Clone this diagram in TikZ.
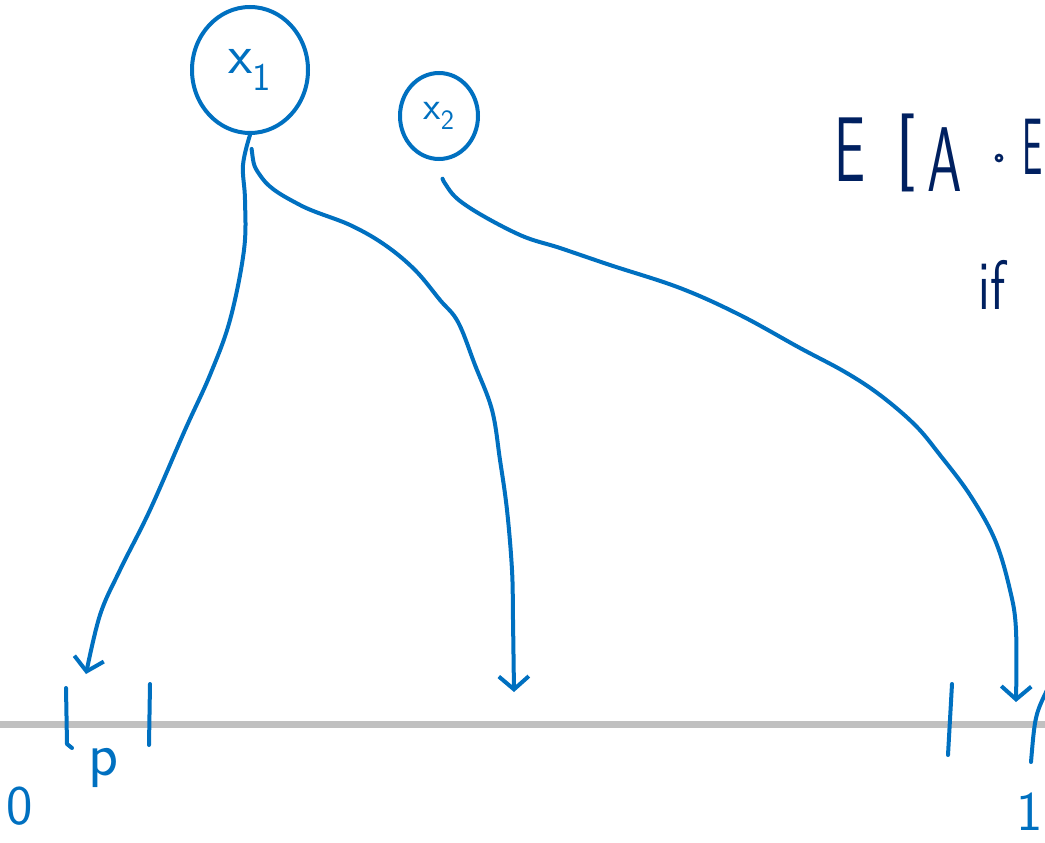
\documentclass[tikz,border=0pt]{standalone}
\usetikzlibrary{shapes.geometric,arrows.meta}
\definecolor{pen}{RGB}{0,112,192}
\definecolor{ink}{RGB}{0,32,96}
\definecolor{axisgray}{RGB}{192,192,192}
\begin{document}
\begin{tikzpicture}[x=1pt,y=-1pt,
  penline/.style={draw=pen, line width=4pt, line cap=round, line join=round},
  conn/.style={penline, -{Straight Barb[length=13pt,width=30pt]}},
  bubble/.style={ellipse, draw=pen, line width=4pt, inner sep=0pt, text=pen, font=\sffamily\fontsize{56}{56}\selectfont},
  hand/.style={text=pen, inner sep=0pt, font=\sffamily\fontsize{56}{56}\selectfont},
  navy/.style={text=ink, inner sep=0pt, font=\sffamily\fontsize{92}{92}\selectfont}]
\useasboundingbox (0,0) rectangle (1045,843);
\clip (0,0) rectangle (1045,843);
% axis
\draw[axisgray, line width=7pt] (0,724) -- (1045,724);
% variable nodes
\node[bubble, minimum width=116pt, minimum height=126pt] (x1) at (250,70) {x\textsubscript{1}};
\node[bubble, minimum width=78pt, minimum height=86pt, font=\sffamily\fontsize{40}{40}\selectfont] (x2) at (439,116) {x\textsubscript{2}};
% connector ends
\coordinate (e1) at (86,674);
\coordinate (e2) at (514,692);
\coordinate (e3) at (1016,702);
% connectors
\draw[conn] plot[smooth, tension=0.6] coordinates {(x1.south) (243,165) (245,200) (244,250) (230,320) (210,375) (185,430) (150,510) (120,570) (100,615) (e1)};
\draw[conn, shorten <=14pt] plot[smooth, tension=0.6] coordinates {(x1.south) (262,178) (300,205) (350,225) (385,245) (415,270) (440,300) (458,322) (475,365) (492,410) (500,460) (507,510) (512,570) (513,620) (e2)};
\draw[conn, shorten <=18pt] plot[smooth, tension=0.6] coordinates {(x2.south) (448,188) (470,208) (520,235) (560,248) (610,265) (680,288) (740,315) (800,348) (845,372) (880,395) (915,425) (940,455) (970,495) (995,540) (1010,590) (1016,630) (e3)};
% ticks on the axis
\draw[penline] (66,688) -- (67,744) -- (72,748);
\draw[penline] (150,684) -- (149,745);
\draw[penline] (952,684) -- (948,755);
\draw[penline] (1048,688) .. controls (1035,715) .. (1031,762);
% axis labels
\node[hand] (l0) at (20,806) {0};
\node[hand, font=\sffamily\fontsize{62}{62}\selectfont] (lp) at (104,768) {p};
\node[hand] (l1) at (1030,812) {1};
% formula at top right
\node[navy] (fE) at (850,150) {\scalebox{0.6}[1]{E}};
\node[navy] (fb) at (906,153) {\scalebox{0.8}[0.85]{[}};
\node[navy] (fA) at (945,160) {\scalebox{0.6}[1]{A}};
\node[draw=ink, line width=2.6pt, circle, minimum size=6pt, inner sep=0pt] (fd) at (999,158) {};
\node[navy, font=\sffamily\fontsize{80}{80}\selectfont] (fE2) at (1033,147) {\scalebox{0.45}[1]{E}};
\node[navy, font=\sffamily\fontsize{70}{70}\selectfont] (fif) at (992,285) {\scalebox{0.75}[1]{if}};
\end{tikzpicture}
\end{document}
